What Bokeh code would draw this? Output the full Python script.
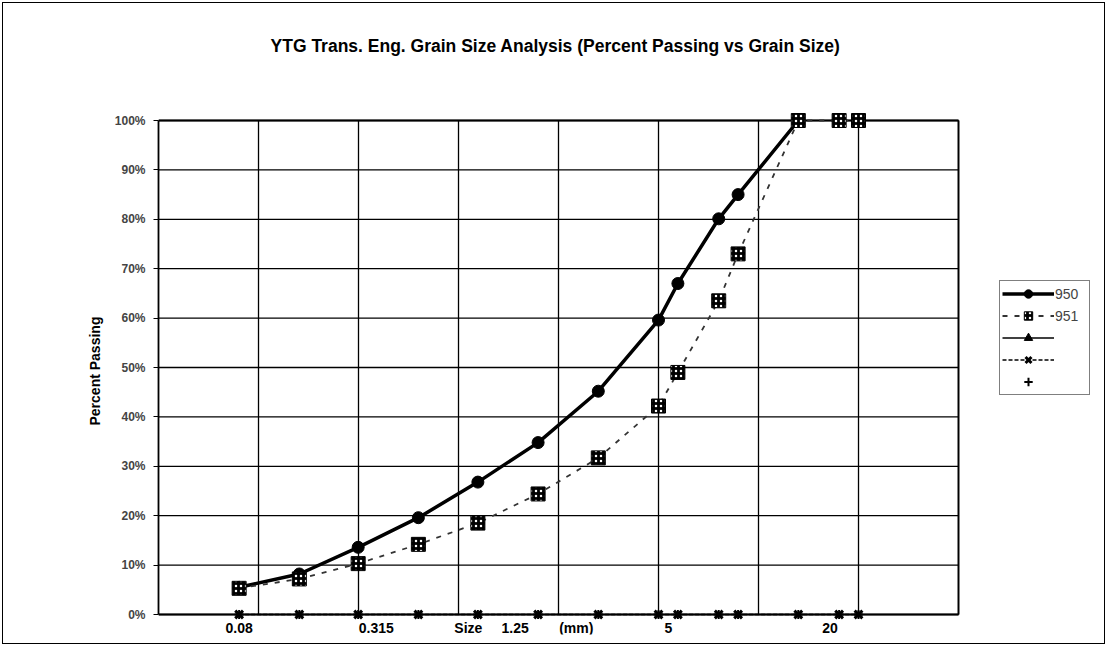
from bokeh.plotting import figure
from bokeh.models import (FixedTicker, NumeralTickFormatter, Legend, LegendItem,
                          Range1d, Label, Title)
from bokeh.core.properties import value
from bokeh.embed import file_html
from bokeh.resources import INLINE

# ---------------- data ----------------
sizes_mm = [0.08, 0.16, 0.315, 0.63, 1.25, 2.5, 5, 10, 12.5, 20, 25, 50, 80, 100]
pass_950 = [5.5, 8.2, 13.6, 19.6, 26.8, 34.8, 45.2, 59.6, 67.0, 80.1, 85.0, 100.0]
pass_951 = [5.3, 7.2, 10.3, 14.2, 18.5, 24.4, 31.7, 42.2, 49.0, 63.5, 73.0, 100.0, 100.0, 100.0]
pass_s3 = [None, None, None, None, None, None, None, None, None, None, None, None, None, None]
pass_s4 = [0, 0, 0, 0, 0, 0, 0, 0, 0, 0, 0, 0, 0, 0]
pass_s5 = [0, 0, 0, 0, 0, 0, 0, 0, 0, 0, 0, 0, 0, 0]
series_names = ["950", "951", " ", "  ", "   "]
y_ticks = [0, 10, 20, 30, 40, 50, 60, 70, 80, 90, 100]
x_grid = [0.1, 0.3162, 1.0, 3.162, 10.0, 31.62, 100.0]
x_min, x_max = 0.03162, 316.2
x_label_text = ["0.08", "0.315", "Size", "1.25", "(mm)", "5", "20"]
x_label_pos = [0.08, 0.388, 1.12, 1.92, 3.88, 11.2, 72.0]
title_text = "YTG Trans. Eng. Grain Size Analysis (Percent Passing vs Grain Size)"
y_title = "Percent Passing"

FONT = "Liberation Sans"

# ---------------- layout (pixels) ----------------
W, H = 1103, 642
LEFT, RIGHT, BOTTOM = 155, 3, 11
frame_w = W - LEFT - RIGHT
frame_h = H - BOTTOM
px_per_decade = 200.0
plot_top_px, plot_h_px = 117, 494          # 100% line and height of 0..100%
y_lo = -(frame_h - plot_top_px - plot_h_px) / plot_h_px
y_hi = 1 + plot_top_px / plot_h_px
x_hi = x_min * 10 ** (frame_w / px_per_decade)

p = figure(width=W, height=H, x_axis_type="log", output_backend="svg",
           toolbar_location=None, min_border_left=LEFT, min_border_top=0,
           min_border_right=RIGHT, min_border_bottom=BOTTOM)
p.styles = {"border": "1px solid black", "margin": "2px"}
p.x_range = Range1d(x_min, x_hi)
p.y_range = Range1d(y_lo, y_hi)
p.background_fill_color = "white"
p.border_fill_color = "white"
p.outline_line_color = None
p.xgrid.visible = False
p.ygrid.visible = False
p.xaxis.visible = False
p.title.text = ""

# grid lines of the plot area
yt = [t / 100 for t in y_ticks]
p.segment(x0=[x_min] * len(yt), x1=[x_max] * len(yt), y0=yt, y1=yt,
          line_color="black", line_width=1.3)
vx = x_grid + [x_max]
p.segment(x0=vx, x1=vx, y0=[0] * len(vx), y1=[1] * len(vx),
          line_color="black", line_width=1.3)
p.segment(x0=[x_min, x_min, x_max], x1=[x_max, x_max, x_max], y0=[0, 1, 0], y1=[0, 1, 1],
          line_color="black", line_width=1.8)

# y axis
p.yaxis.bounds = (0, 1)
p.yaxis.ticker = FixedTicker(ticks=yt)
p.yaxis.formatter = NumeralTickFormatter(format="0%")
p.yaxis.major_tick_in = 0
p.yaxis.major_tick_out = 5
p.yaxis.minor_tick_line_color = None
p.yaxis.major_label_standoff = 8
p.yaxis.major_label_text_font = FONT
p.yaxis.major_label_text_font_style = "bold"
p.yaxis.major_label_text_font_size = "12px"
p.yaxis.axis_line_width = 1.8

# y axis title, placed beside the axis
ytitle = Title(text=y_title, align="left", offset=209, standoff=18,
               text_font=FONT, text_font_style="bold", text_font_size="14px",
               text_color="black")
p.add_layout(ytitle, "left")

# x labels (real text, on the log scale)
p.text(x=x_label_pos, y=[-0.028] * len(x_label_pos), text=x_label_text,
       text_font=value(FONT), text_font_style="bold", text_font_size="14px",
       text_align="center", text_baseline="middle", text_color="black")

# ---------------- series ----------------
y950 = [v / 100 for v in pass_950]
y951 = [v / 100 for v in pass_951]
y3 = [float("nan") if v is None else v / 100 for v in pass_s3]
y4 = [v / 100 for v in pass_s4]
y5 = [v / 100 for v in pass_s5]

r4l = p.line(sizes_mm, y4, line_color="black", line_width=1.5, line_dash="4 2")
r4m = p.scatter(sizes_mm, y4, marker="x", size=11, line_color="black", line_width=3)
r5m = p.scatter(sizes_mm, y5, marker="cross", size=9, line_color="black", line_width=2)
r3l = p.line(sizes_mm, y3, line_color="black", line_width=1.5)
r3m = p.scatter(sizes_mm, y3, marker="triangle", size=9, fill_color="black",
                line_color="black")

r950l = p.line(sizes_mm[:len(y950)], y950, line_color="black", line_width=3.5)
r950m = p.scatter(sizes_mm[:len(y950)], y950, marker="circle", size=12,
                  fill_color="black", line_color="black")

r951l = p.line(sizes_mm, y951, line_color="#333333", line_width=1.8, line_dash="5 7")
r951m = p.scatter(sizes_mm, y951, marker="square", size=14, fill_color="black",
                  line_color="black", hatch_pattern="dot", hatch_color="white",
                  hatch_scale=5, hatch_weight=1)

legend = Legend(items=[
    LegendItem(label=series_names[0], renderers=[r950l, r950m]),
    LegendItem(label=series_names[1], renderers=[r951l, r951m]),
    LegendItem(label=series_names[2], renderers=[r3l, r3m]),
    LegendItem(label=series_names[3], renderers=[r4l, r4m]),
    LegendItem(label=series_names[4], renderers=[r5m]),
], location=(841, 239))
legend.border_line_color = "black"
legend.border_line_width = 1
legend.background_fill_color = "white"
legend.background_fill_alpha = 1
legend.label_text_font = FONT
legend.label_text_font_size = "14px"
legend.glyph_width = 52
legend.glyph_height = 21
legend.label_height = 21
legend.label_width = 32
legend.label_standoff = 1
legend.spacing = 1
legend.padding = 2
legend.margin = 0
p.add_layout(legend, "center")

title = Label(x=397, y=frame_h - 42, x_units="screen", y_units="screen",
              text=title_text, text_font=FONT, text_font_style="bold",
              text_font_size="17.5px", text_align="center", text_baseline="middle",
              text_color="black")
p.add_layout(title)

open("out.html", "w").write(file_html(p, INLINE))
